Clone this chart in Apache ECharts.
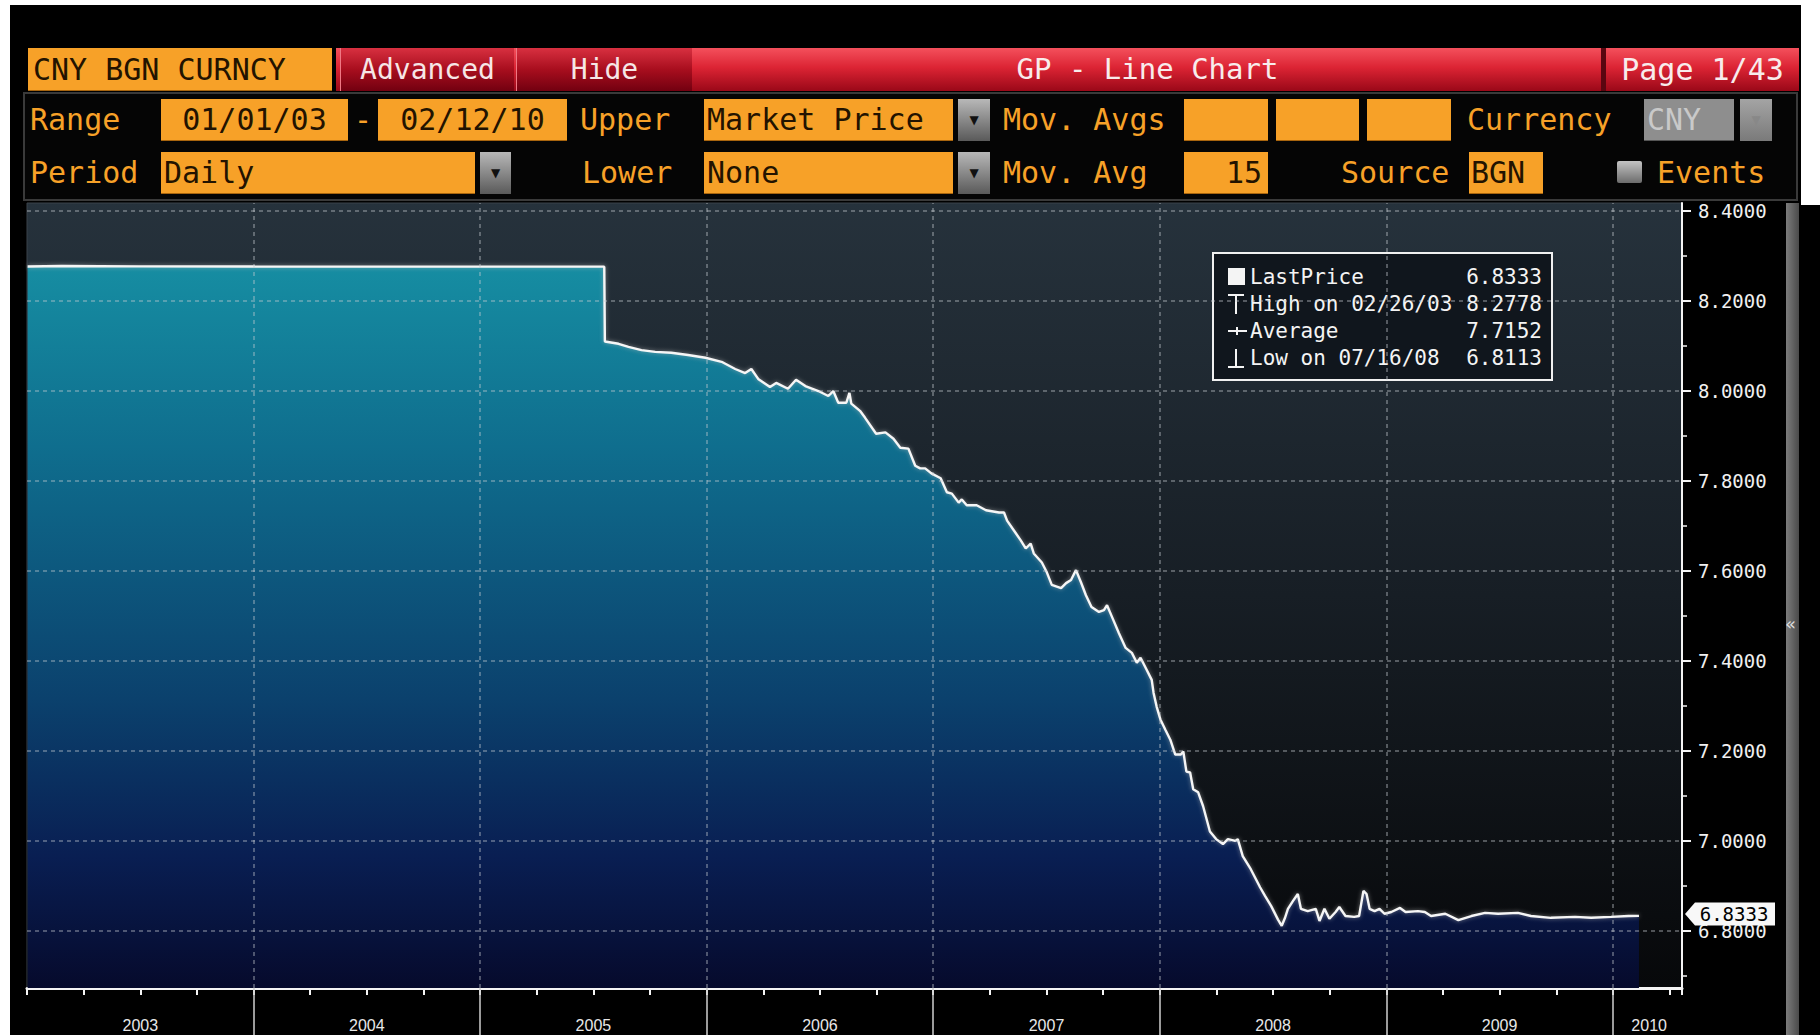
<!DOCTYPE html>
<html>
<head>
<meta charset="utf-8">
<title>CNY BGN CURNCY - GP Line Chart</title>
<script src="https://cdn.jsdelivr.net/npm/echarts@6/dist/echarts.min.js"></script>
<style>
  html, body { margin: 0; padding: 0; width: 1820px; height: 1035px; overflow: hidden; background: #fff; }
  .abs { position: absolute; box-sizing: border-box; }
  .mono { font-family: "DejaVu Sans Mono", "Liberation Mono", monospace; font-size: 30px; white-space: pre; }
  .lbl { color: #f7a128; height: 43px; line-height: 43px; }
  .box { background: #f7a128; color: #231300; height: 42px; line-height: 42px; border-bottom: 1px solid #a8650e; }
  .drop { background: linear-gradient(#b8b8b8, #5a5a5a); height: 42px; color: #111; font: 12px "DejaVu Sans"; text-align: center; line-height: 42px; }
  .redbar { background: linear-gradient(#f4505c 0%, #dc2434 45%, #9a0818 100%); }
  .btn { background: linear-gradient(#d83040 0%, #a80e1e 50%, #720010 100%); color: #f6e6e6; text-align: center; height: 43px; line-height: 43px; border-left: 1px solid #f07884; font-size: 28px; }
  .title { color: #f8ecec; text-align: center; height: 43px; line-height: 43px; font-size: 29px; }
</style>
</head>
<body>
<div class="abs" style="left:10px;top:5px;width:1810px;height:1030px;background:#000"></div>
<div class="abs" style="left:1801px;top:0;width:19px;height:205px;background:#fff"></div>

<!-- header row -->
<div class="abs mono box" style="left:28px;top:48px;width:304px;height:43px;line-height:43px;padding-left:5px">CNY BGN CURNCY</div>
<div class="abs redbar" style="left:336px;top:48px;width:1463px;height:43px"></div>
<div class="abs mono btn" style="left:340px;top:48px;width:174px">Advanced</div>
<div class="abs mono btn" style="left:516px;top:48px;width:176px">Hide</div>
<div class="abs mono title" style="left:693px;top:48px;width:909px">GP - Line Chart</div>
<div class="abs" style="left:1601px;top:48px;width:5px;height:43px;background:#5a0610"></div>
<div class="abs mono title" style="left:1606px;top:48px;width:193px;font-size:30px">Page 1/43</div>

<!-- control panel -->
<div class="abs" style="left:23px;top:92px;width:1775px;height:109px;border:2px solid #3a3a3a;background:#050505"></div>

<div class="abs mono lbl" style="left:30px;top:98px">Range</div>
<div class="abs mono box" style="left:161px;top:99px;width:187px;text-align:center">01/01/03</div>
<div class="abs mono lbl" style="left:354px;top:98px">-</div>
<div class="abs mono box" style="left:378px;top:99px;width:189px;text-align:center">02/12/10</div>
<div class="abs mono lbl" style="left:580px;top:98px">Upper</div>
<div class="abs mono box" style="left:704px;top:99px;width:249px;padding-left:3px">Market Price</div>
<div class="abs drop" style="left:958px;top:99px;width:32px">▼</div>
<div class="abs mono lbl" style="left:1003px;top:98px">Mov. Avgs</div>
<div class="abs mono box" style="left:1184px;top:99px;width:84px"></div>
<div class="abs mono box" style="left:1276px;top:99px;width:83px"></div>
<div class="abs mono box" style="left:1367px;top:99px;width:84px"></div>
<div class="abs mono lbl" style="left:1467px;top:98px">Currency</div>
<div class="abs mono box" style="left:1644px;top:99px;width:90px;background:#8e8e8e;color:#c9c9c9;border-bottom-color:#555;padding-left:3px">CNY</div>
<div class="abs drop" style="left:1740px;top:99px;width:32px;background:linear-gradient(#a4a4a4,#7a7a7a);color:#888">▼</div>

<div class="abs mono lbl" style="left:30px;top:151px">Period</div>
<div class="abs mono box" style="left:161px;top:152px;width:314px;padding-left:3px">Daily</div>
<div class="abs drop" style="left:480px;top:152px;width:31px">▼</div>
<div class="abs mono lbl" style="left:582px;top:151px">Lower</div>
<div class="abs mono box" style="left:704px;top:152px;width:249px;padding-left:3px">None</div>
<div class="abs drop" style="left:958px;top:152px;width:32px">▼</div>
<div class="abs mono lbl" style="left:1003px;top:151px">Mov. Avg</div>
<div class="abs mono box" style="left:1184px;top:152px;width:84px;text-align:right;padding-right:6px">15</div>
<div class="abs mono lbl" style="left:1341px;top:151px">Source</div>
<div class="abs mono box" style="left:1469px;top:152px;width:74px;padding-left:2px">BGN</div>
<div class="abs" style="left:1617px;top:161px;width:25px;height:22px;background:linear-gradient(#c4c4c4,#6c6c6c);border-radius:2px"></div>
<div class="abs mono lbl" style="left:1657px;top:151px">Events</div>

<!-- scroll strip -->
<div class="abs" style="left:1786px;top:203px;width:13px;height:832px;background:linear-gradient(90deg,#7c7c7c,#4a4a4a)"></div>
<div class="abs" style="left:1785px;top:613px;color:#ddd;font:18px 'DejaVu Sans'">«</div>

<div id="chart" class="abs" style="left:0;top:200px;width:1820px;height:835px"></div>

<script>
// daily fixing
const DATES = [
  '2003-01-02', '2003-02-26', '2003-06-30', '2003-12-31', '2004-06-30', '2004-12-31',
  '2005-07-20', '2005-07-21', '2005-08-12', '2005-08-28', '2005-09-18', '2005-10-10',
  '2005-11-05', '2005-12-02', '2005-12-30', '2006-01-25', '2006-02-16', '2006-03-04',
  '2006-03-14', '2006-03-25', '2006-04-13', '2006-04-23', '2006-05-12', '2006-05-25',
  '2006-06-09', '2006-06-30', '2006-07-16', '2006-07-24', '2006-08-01', '2006-08-14',
  '2006-08-19', '2006-08-22', '2006-09-05', '2006-09-13', '2006-10-01', '2006-10-16',
  '2006-10-29', '2006-11-09', '2006-11-22', '2006-12-03', '2006-12-11', '2006-12-19',
  '2006-12-29', '2007-01-13', '2007-01-23', '2007-01-31', '2007-02-11', '2007-02-16',
  '2007-02-24', '2007-03-12', '2007-03-27', '2007-04-17', '2007-04-25', '2007-04-30',
  '2007-05-11', '2007-05-22', '2007-05-30', '2007-06-07', '2007-06-12', '2007-06-25',
  '2007-07-03', '2007-07-11', '2007-07-26', '2007-08-03', '2007-08-11', '2007-08-19',
  '2007-08-27', '2007-09-04', '2007-09-13', '2007-09-25', '2007-10-03', '2007-10-08',
  '2007-10-16', '2007-10-27', '2007-11-07', '2007-11-17', '2007-11-25', '2007-12-01',
  '2007-12-11', '2007-12-19', '2007-12-22', '2007-12-27', '2008-01-02', '2008-01-10',
  '2008-01-18', '2008-01-26', '2008-02-04', '2008-02-08', '2008-02-13', '2008-02-19',
  '2008-02-24', '2008-03-03', '2008-03-11', '2008-03-22', '2008-04-01', '2008-04-12',
  '2008-04-20', '2008-05-02', '2008-05-06', '2008-05-14', '2008-05-27', '2008-06-11',
  '2008-06-19', '2008-06-29', '2008-07-10', '2008-07-16', '2008-07-21', '2008-07-26',
  '2008-08-03', '2008-08-11', '2008-08-16', '2008-08-27', '2008-09-09', '2008-09-15',
  '2008-09-23', '2008-10-01', '2008-10-11', '2008-10-17', '2008-10-27', '2008-11-10',
  '2008-11-18', '2008-11-25', '2008-11-30', '2008-12-05', '2008-12-13', '2008-12-21',
  '2008-12-29', '2009-01-09', '2009-01-23', '2009-02-01', '2009-02-21', '2009-03-04',
  '2009-03-14', '2009-04-06', '2009-04-27', '2009-05-18', '2009-06-09', '2009-06-30',
  '2009-08-01', '2009-08-22', '2009-09-23', '2009-11-01', '2009-11-27', '2009-12-29',
  '2010-01-26', '2010-02-12'
]
const PRICES = [
  8.2770, 8.2778, 8.2772, 8.2767, 8.2766, 8.2765,
  8.2765, 8.1100, 8.1050, 8.0980, 8.0910, 8.0870,
  8.0850, 8.0800, 8.0740, 8.0650, 8.0490, 8.0400,
  8.0490, 8.0270, 8.0090, 8.0180, 8.0050, 8.0250,
  8.0110, 8.0000, 7.9890, 8.0000, 7.9740, 7.9740,
  7.9960, 7.9720, 7.9560, 7.9410, 7.9050, 7.9080,
  7.8940, 7.8740, 7.8720, 7.8340, 7.8280, 7.8280,
  7.8170, 7.8060, 7.7750, 7.7720, 7.7520, 7.7590,
  7.7460, 7.7460, 7.7350, 7.7300, 7.7300, 7.7120,
  7.6900, 7.6680, 7.6500, 7.6610, 7.6390, 7.6190,
  7.5970, 7.5690, 7.5620, 7.5730, 7.5800, 7.6020,
  7.5750, 7.5460, 7.5200, 7.5090, 7.5130, 7.5240,
  7.4980, 7.4620, 7.4290, 7.4180, 7.3960, 7.4070,
  7.3800, 7.3580, 7.3290, 7.2980, 7.2700, 7.2470,
  7.2250, 7.1920, 7.1920, 7.1990, 7.1540, 7.1520,
  7.1150, 7.1080, 7.0770, 7.0210, 7.0040, 6.9930,
  7.0040, 7.0000, 7.0040, 6.9660, 6.9370, 6.8970,
  6.8780, 6.8550, 6.8250, 6.8113, 6.8280, 6.8490,
  6.8660, 6.8820, 6.8490, 6.8440, 6.8490, 6.8220,
  6.8490, 6.8270, 6.8420, 6.8530, 6.8330, 6.8310,
  6.8330, 6.8890, 6.8820, 6.8490, 6.8440, 6.8490,
  6.8380, 6.8420, 6.8510, 6.8420, 6.8440, 6.8420,
  6.8330, 6.8380, 6.8240, 6.8330, 6.8400, 6.8380,
  6.8400, 6.8330, 6.8290, 6.8310, 6.8290, 6.8310,
  6.8330, 6.8333
]

const Y_TICKS = [6.8, 7.0, 7.2, 7.4, 7.6, 7.8, 8.0, 8.2, 8.4]
const Y_MINOR_TICKS = [6.7, 6.9, 7.1, 7.3, 7.5, 7.7, 7.9, 8.1, 8.3]
const YEAR_LINES = [2004, 2005, 2006, 2007, 2008, 2009, 2010]
const YEAR_LABEL_POS = [2003.5, 2004.5, 2005.5, 2006.5, 2007.5, 2008.5, 2009.5, 2010.16]

const STAT_LABELS = ['LastPrice', 'High on 02/26/03', 'Average', 'Low on 07/16/08']
const STAT_VALUES = ['6.8333', '8.2778', '7.7152', '6.8113']
const LAST_PRICE = 6.8333

const X_MIN = 2003
const X_MAX = 2010.305
const Y_MIN = 6.673
const Y_MAX = 8.418

const MONO = '"DejaVu Sans Mono", "Liberation Mono", monospace'

// date string -> fractional year, so the x axis can be a plain value axis
const toYear = (s) => {
  const [y, m, d] = s.split('-').map(Number)
  const t = Date.UTC(y, m - 1, d)
  const a = Date.UTC(y, 0, 1)
  const b = Date.UTC(y + 1, 0, 1)
  return y + (t - a) / (b - a)
}

const points = DATES.map((d, i) => [toYear(d), PRICES[i]])

const chart = echarts.init(document.getElementById('chart'), null, { renderer: 'svg' })

const gridLine = { color: 'rgba(200, 206, 212, 0.5)', type: [4, 4], width: 1.5 }

const legendRows = []
STAT_LABELS.forEach((label, i) => {
  const y = 77 + i * 27
  legendRows.push({
    type: 'text', x: 1250, y,
    style: { text: label, fill: '#f4f4f4', font: '21px ' + MONO, verticalAlign: 'middle' },
  })
  legendRows.push({
    type: 'text', x: 1542, y,
    style: { text: STAT_VALUES[i], fill: '#f4f4f4', font: '21px ' + MONO, align: 'right', verticalAlign: 'middle' },
  })
})

const iconStroke = { stroke: '#f4f4f4', lineWidth: 2 }

const option = {
  animation: false,
  grid: {
    left: 27, right: 138, top: 3, bottom: 47,
    show: true,
    borderColor: '#3a434b',
    borderWidth: 1,
    backgroundColor: new echarts.graphic.LinearGradient(0, 0, 0, 1, [
      { offset: 0, color: '#26323c' },
      { offset: 0.5, color: '#171e25' },
      { offset: 1, color: '#07080a' },
    ]),
  },
  xAxis: [
    {
      type: 'value', min: X_MIN, max: X_MAX, interval: 0.25, position: 'bottom',
      axisLine: { lineStyle: { color: '#f4f4f4', width: 3 } },
      axisTick: { length: 7, lineStyle: { color: '#f4f4f4', width: 2 } },
      axisLabel: {
        customValues: YEAR_LABEL_POS,
        formatter: (v) => String(Math.floor(v)),
        color: '#e8e8e8', fontFamily: 'Liberation Sans', fontSize: 16, margin: 29,
      },
      splitLine: { show: false },
    },
    {
      type: 'value', min: X_MIN, max: X_MAX, position: 'bottom',
      axisLine: { show: false },
      axisTick: { customValues: YEAR_LINES, length: 48, lineStyle: { color: '#cfcfcf', width: 1.5 } },
      axisLabel: { show: false },
      splitLine: { show: false },
    },
  ],
  yAxis: [
    {
      type: 'value', min: Y_MIN, max: Y_MAX, position: 'right',
      axisLine: { show: true, lineStyle: { color: '#f4f4f4', width: 2 } },
      axisTick: { show: true, customValues: Y_TICKS, length: 9, lineStyle: { color: '#f4f4f4', width: 2 } },
      axisLabel: {
        customValues: Y_TICKS,
        formatter: (v) => v.toFixed(4),
        color: '#f0f0f0', fontFamily: MONO, fontSize: 19, margin: 16,
      },
      splitLine: { show: false },
    },
    {
      type: 'value', min: Y_MIN, max: Y_MAX, position: 'right',
      axisLine: { show: false },
      axisTick: { show: true, customValues: Y_MINOR_TICKS, length: 5, lineStyle: { color: '#f4f4f4', width: 1.5 } },
      axisLabel: { show: false },
      splitLine: { show: false },
    },
  ],
  graphic: [
    {
      type: 'group',
      children: [
        {
          type: 'rect', shape: { x: 1213, y: 53, width: 339, height: 127 },
          style: { fill: '#10161d', stroke: '#f0f0f0', lineWidth: 2 },
        },
        { type: 'rect', shape: { x: 1228, y: 68, width: 17, height: 17 }, style: { fill: '#f4f4f4' } },
        { type: 'line', shape: { x1: 1228, y1: 95, x2: 1244, y2: 95 }, style: iconStroke },
        { type: 'line', shape: { x1: 1236, y1: 95, x2: 1236, y2: 114 }, style: iconStroke },
        { type: 'line', shape: { x1: 1228, y1: 131, x2: 1247, y2: 131 }, style: iconStroke },
        { type: 'line', shape: { x1: 1237, y1: 127, x2: 1237, y2: 135 }, style: iconStroke },
        { type: 'line', shape: { x1: 1236, y1: 149, x2: 1236, y2: 167 }, style: iconStroke },
        { type: 'line', shape: { x1: 1228, y1: 167, x2: 1244, y2: 167 }, style: iconStroke },
        ...legendRows,
      ],
    },
  ],
  series: [
    {
      name: 'fill',
      type: 'line',
      data: points,
      showSymbol: false,
      silent: true,
      z: 1,
      lineStyle: { width: 0 },
      areaStyle: {
        origin: 'start',
        opacity: 1,
        color: new echarts.graphic.LinearGradient(0, 0, 0, 1, [
          { offset: 0, color: '#168da2' },
          { offset: 0.25, color: '#0f6e8e' },
          { offset: 0.6, color: '#0b416d' },
          { offset: 0.82, color: '#091e52' },
          { offset: 1, color: '#060a2c' },
        ]),
      },
    },
    {
      name: 'grid',
      type: 'line',
      data: points,
      showSymbol: false,
      silent: true,
      z: 2,
      lineStyle: { opacity: 0 },
      markLine: {
        silent: true,
        symbol: ['none', 'none'],
        label: { show: false },
        lineStyle: gridLine,
        data: [
          ...Y_TICKS.map((v) => ({ yAxis: v })),
          ...YEAR_LINES.map((v) => ({ xAxis: v })),
        ],
      },
    },
    {
      name: 'LastPrice',
      type: 'line',
      data: points,
      showSymbol: false,
      clip: false,
      z: 3,
      lineStyle: {
        color: '#f6f6f6',
        width: 2.4,
        shadowColor: 'rgba(190, 190, 190, 0.6)',
        shadowBlur: 4,
      },
      markPoint: {
        silent: true,
        symbol: 'path://M0,11 L10,0 L90,0 L90,22 L10,22 Z',
        symbolSize: [90, 23],
        symbolOffset: [48, -2],
        itemStyle: { color: '#f8f8f8' },
        label: {
          show: true,
          position: 'inside',
          offset: [4, 0],
          color: '#000',
          fontFamily: MONO,
          fontSize: 19,
          formatter: () => LAST_PRICE.toFixed(4),
        },
        data: [{ coord: [X_MAX, LAST_PRICE], value: LAST_PRICE }],
      },
    },
  ],
}

chart.setOption(option)
</script>
</body>
</html>
